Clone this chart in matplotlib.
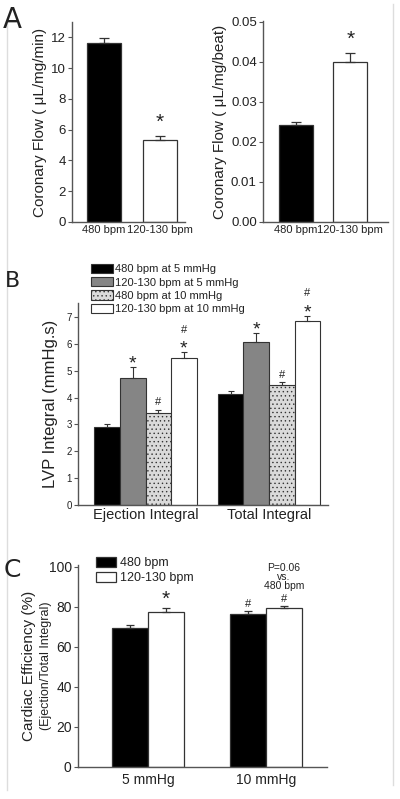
import matplotlib
matplotlib.use("Agg")
import matplotlib.pyplot as plt
from matplotlib.lines import Line2D
import numpy as np

plt.rcParams['font.family'] = ["Liberation Sans", 'DejaVu Sans']
plt.rcParams['hatch.color'] = '#c2c2c2'
plt.rcParams['hatch.linewidth'] = 0.5
TXT = "#222222"
AX = "#555555"

# ---------- data ----------
a_cats = ["480 bpm", "120-130 bpm"]
a_flow_min = [11.65, 5.3]
a_flow_min_err = [0.3, 0.3]
a_flow_beat = [0.0243, 0.0400]
a_flow_beat_err = [0.0006, 0.0022]

b_groups = ["Ejection Integral", "Total Integral"]
b_series = ["480 bpm at 5 mmHg", "120-130 bpm at 5 mmHg",
            "480 bpm at 10 mmHg", "120-130 bpm at 10 mmHg"]
b_vals = [[2.90, 4.15], [4.72, 6.05], [3.43, 4.47], [5.47, 6.85]]
b_errs = [[0.12, 0.10], [0.40, 0.35], [0.12, 0.12], [0.22, 0.20]]
b_marks = [["", ""], ["*", "*"], ["#", "#"], ["#*", "#*"]]

c_groups = ["5 mmHg", "10 mmHg"]
c_series = ["480 bpm", "120-130 bpm"]
c_vals = [[69.5, 76.7], [77.5, 79.7]]
c_errs = [[1.5, 1.2], [2.0, 1.0]]
c_marks = [["", "#"], ["*", "#"]]

W, H = 400, 799
fig = plt.figure(figsize=(4.0, 7.99), dpi=100)

# faint frame lines of the original figure
fig.add_artist(Line2D([7 / W, 7 / W], [1 - 790 / H, 1 - 20 / H], color="#dddddd", lw=1))
fig.add_artist(Line2D([393 / W, 393 / W], [1 - 785 / H, 1 - 4 / H], color="#dddddd", lw=1))

def axes_px(x0, x1, ytop, ybot):
    return fig.add_axes([x0 / W, 1 - ybot / H, (x1 - x0) / W, (ybot - ytop) / H])

def style(ax, tsize):
    for s in ["top", "right"]:
        ax.spines[s].set_visible(False)
    for s in ["left", "bottom"]:
        ax.spines[s].set_color(AX)
        ax.spines[s].set_linewidth(1.0)
    ax.tick_params(axis="y", direction="out", length=3, width=0.8, color=AX,
                   labelsize=tsize, labelcolor=TXT, pad=1.5)
    ax.tick_params(axis="x", length=0, labelsize=tsize, labelcolor=TXT, pad=2)

ekw = dict(ecolor="#333333", elinewidth=0.9, capsize=3.5, capthick=0.9)

# ---------- Panel A left ----------
ax = axes_px(72, 185, 22, 222)
x = np.arange(len(a_cats))
ax.bar(x, a_flow_min, width=0.6, color=["black", "white"], edgecolor="#333333", linewidth=0.9)
ax.errorbar(x, a_flow_min, yerr=[[0, 0], a_flow_min_err], fmt="none", **ekw)
ax.set_xlim(-0.57, 1.45)
ax.set_ylim(0, 13)
ax.set_yticks(np.arange(0, 13, 2))
ax.set_xticks(x)
ax.set_xticklabels(a_cats)
style(ax, 9.5)
ax.tick_params(axis="x", labelsize=8)
ax.set_ylabel("Coronary Flow ( \u03bcL/mg/min)", fontsize=11, color=TXT, labelpad=3)
ax.text(1, a_flow_min[1] + a_flow_min_err[1] + 0.25, "*", ha="center", va="bottom", fontsize=15, color=TXT)
fig.text(3 / W, 1 - 28 / H, "A", fontsize=20, color=TXT, family=["DejaVu Sans"])

# ---------- Panel A right ----------
ax = axes_px(263, 388, 21, 222)
ax.bar(x, a_flow_beat, width=0.62, color=["black", "white"], edgecolor="#333333", linewidth=0.9)
ax.errorbar(x, a_flow_beat, yerr=[[0, 0], a_flow_beat_err], fmt="none", **ekw)
ax.set_xlim(-0.6, 1.69)
ax.set_ylim(0, 0.0502)
ax.set_yticks(np.arange(0, 0.051, 0.01))
ax.set_yticklabels([f"{v:.2f}" for v in np.arange(0, 0.051, 0.01)])
ax.set_xticks(x)
ax.set_xticklabels(a_cats)
style(ax, 9.5)
ax.tick_params(axis="x", labelsize=8)
ax.set_ylabel("Coronary Flow ( \u03bcL/mg/beat)", fontsize=11, color=TXT, labelpad=3)
ax.text(1, a_flow_beat[1] + a_flow_beat_err[1] + 0.001, "*", ha="center", va="bottom", fontsize=15, color=TXT)

# ---------- Panel B ----------
ax = axes_px(78, 328, 303, 505)
colors_b = ["black", "#858585", "#dadada", "white"]
w = 0.207
xg = np.arange(len(b_groups))
for j, name in enumerate(b_series):
    xs = xg + (j - 1.5) * w
    ax.bar(xs, b_vals[j], width=w, color=colors_b[j], edgecolor="#333333", linewidth=0.8,
           label=name, hatch="...." if j == 2 else None)
    ax.errorbar(xs, b_vals[j], yerr=[[0] * 2, b_errs[j]], fmt="none",
                ecolor="#333333", elinewidth=0.8, capsize=2.5, capthick=0.8)
    for k in range(2):
        m = b_marks[j][k]
        if not m:
            continue
        top = b_vals[j][k] + b_errs[j][k]
        if "*" in m:
            ax.text(xs[k], top - 0.2, "*", ha="center", va="bottom", fontsize=14, color=TXT)
        if m == "#":
            ax.text(xs[k], top + 0.08, "#", ha="center", va="bottom", fontsize=8, color=TXT)
        elif "#" in m:
            ax.text(xs[k], top + 0.64, "#", ha="center", va="bottom", fontsize=8, color=TXT)
ax.set_xlim(-0.547, 1.478)
ax.set_ylim(0, 7.52)
ax.set_yticks(range(0, 8))
ax.set_xticks(xg)
ax.set_xticklabels(b_groups)
style(ax, 7)
ax.tick_params(axis="x", labelsize=10.5, pad=2)
ax.set_ylabel("LVP Integral (mmHg.s)", fontsize=12, color=TXT, labelpad=6)
leg = ax.legend(loc="upper left", bbox_to_anchor=(91 / W, 1 - 264 / H), bbox_transform=fig.transFigure,
                frameon=False, fontsize=8, handlelength=2.0, handleheight=0.9,
                labelspacing=0.25, handletextpad=0.2, borderaxespad=0, borderpad=0)
for t in leg.get_texts():
    t.set_color(TXT)
fig.text(5 / W, 1 - 287 / H, "B", fontsize=16, color=TXT, family=["DejaVu Sans"])

# ---------- Panel C ----------
ax = axes_px(78, 327, 565, 767)
colors_c = ["black", "white"]
wc = 0.305
for j, name in enumerate(c_series):
    xs = xg + (j - 0.5) * wc
    ax.bar(xs, c_vals[j], width=wc, color=colors_c[j], edgecolor="#333333", linewidth=0.9, label=name)
    ax.errorbar(xs, c_vals[j], yerr=[[0] * 2, c_errs[j]], fmt="none",
                ecolor="#333333", elinewidth=0.9, capsize=3, capthick=0.9)
    for k in range(2):
        m = c_marks[j][k]
        y = c_vals[j][k] + c_errs[j][k] + 1
        if m == "*":
            ax.text(xs[k], y - 1.5, "*", ha="center", va="bottom", fontsize=15, color=TXT)
        elif m == "#":
            ax.text(xs[k], y, "#", ha="center", va="bottom", fontsize=8, color=TXT)
ax.text(xg[1] + 0.5 * wc, 88, "P=0.06\nvs.\n480 bpm", ha="center", va="bottom", fontsize=7.5,
        color=TXT, linespacing=0.85)
ax.set_xlim(-0.593, 1.517)
ax.set_ylim(0, 101)
ax.set_yticks(range(0, 101, 20))
ax.set_xticks(xg)
ax.set_xticklabels(c_groups)
style(ax, 10)
ax.tick_params(axis="x", labelsize=10, pad=4)
ax.text(-0.197, 0.5, "Cardiac Efficiency (%)", transform=ax.transAxes, rotation=90,
        ha="center", va="center", fontsize=11, color=TXT)
ax.text(-0.128, 0.5, "(Ejection/Total Integral)", transform=ax.transAxes, rotation=90,
        ha="center", va="center", fontsize=9, color=TXT)
leg = ax.legend(loc="upper left", bbox_to_anchor=(96 / W, 1 - 557 / H), bbox_transform=fig.transFigure,
                frameon=False, fontsize=9, handlelength=1.6, handleheight=0.8,
                labelspacing=0.25, handletextpad=0.3, borderaxespad=0, borderpad=0)
for t in leg.get_texts():
    t.set_color(TXT)
fig.text(4 / W, 1 - 577 / H, "C", fontsize=18, color=TXT, family=["DejaVu Sans"])

fig.savefig("out.png", dpi=100, facecolor="white")
